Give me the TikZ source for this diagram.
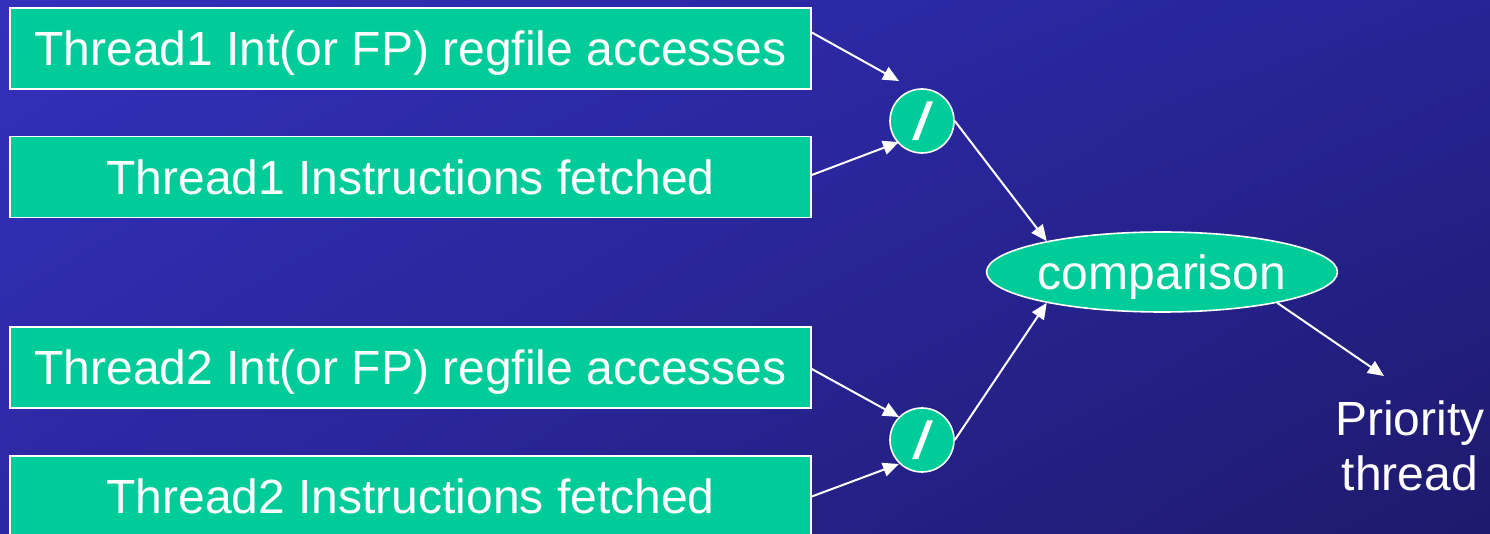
\documentclass[tikz,border=0pt]{standalone}
\usepackage{fontspec}
\setmainfont{Liberation Sans}
\usetikzlibrary{shapes.geometric,arrows.meta,shadings}
\definecolor{bgul}{RGB}{52,48,186}
\definecolor{bgur}{RGB}{38,36,150}
\definecolor{bgll}{RGB}{44,40,164}
\definecolor{bglr}{RGB}{30,26,108}
\definecolor{boxgreen}{RGB}{0,204,153}
\tikzset{
  pbox/.style={draw=white, line width=0.8pt, fill=boxgreen, text=white,
    minimum width=400.5pt, minimum height=40.5pt, inner sep=0pt, text depth=0pt,
    font=\fontsize{24}{27.5}\selectfont},
  divnode/.style={circle, draw=white, line width=0.8pt, fill=boxgreen, text=white,
    minimum size=32pt, inner sep=0pt, font=\fontsize{26}{27.5}\selectfont\bfseries\itshape},
  cmpnode/.style={ellipse, draw=white, line width=0.8pt, fill=boxgreen, text=white,
    minimum width=160.5pt, minimum height=40pt, inner sep=0pt, text depth=0pt,
    font=\fontsize{24}{27.5}\selectfont},
  conn/.style={draw=white, line width=1pt, -{Triangle[length=8pt,width=7pt]}},
}
\begin{document}
\begin{tikzpicture}[x=0.5pt,y=-0.5pt]
\shade[upper left=bgul, upper right=bgur, lower left=bgll, lower right=bglr] (0,0) rectangle (1490,534);
\useasboundingbox (0,0) rectangle (1490,534);

\node[pbox] (b1) at (410.5,48.5) {Thread1 Int(or FP) regfile accesses};
\node[pbox] (b2) at (410.5,177) {Thread1 Instructions fetched};
\node[pbox] (b3) at (410.5,367.5) {Thread2 Int(or FP) regfile accesses};
\node[pbox] (b4) at (410.5,496.5) {Thread2 Instructions fetched};

\node[divnode] (c1) at (922,121) {/};
\node[divnode] (c2) at (922,440) {/};

\node[cmpnode] (e) at (1162,272) {comparison};

\node[text=white, align=center, font=\fontsize{24}{27.5}\selectfont] (p) at (1410,446) {Priority\\thread};

\coordinate (t1) at (899,81);
\coordinate (t2) at (899,142);
\coordinate (t3) at (899,417);
\coordinate (t4) at (899,464);
\coordinate (t7) at (1384,376);

\draw[conn] ([yshift=8pt]b1.east) -- (t1);
\draw[conn] ([yshift=1pt]b2.east) -- (t2);
\draw[conn] ([yshift=-0.75pt]b3.east) -- (t3);
\draw[conn] (b4.east) -- (t4);
\draw[conn] (c1.east) -- (e.165);
\draw[conn] (c2.east) -- (e.195);
\draw[conn] (e.-15) -- (t7);
\end{tikzpicture}
\end{document}
